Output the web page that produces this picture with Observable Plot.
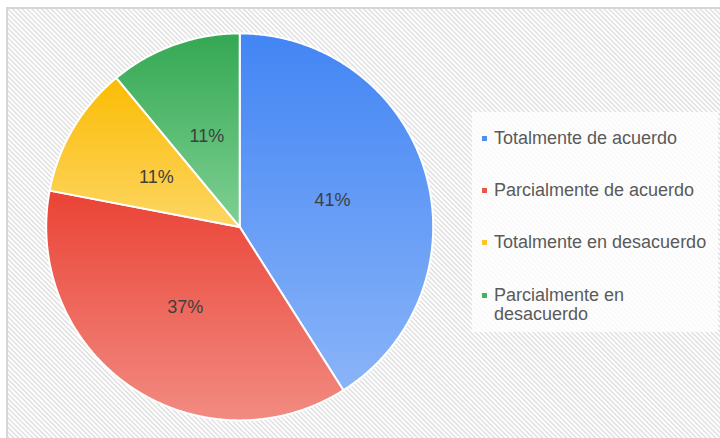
<!DOCTYPE html>
<html>
<head>
<meta charset="utf-8">
<script src="https://cdn.jsdelivr.net/npm/d3@7"></script>
<script src="https://cdn.jsdelivr.net/npm/@observablehq/plot@0.6"></script>
<style>
  html, body { margin: 0; padding: 0; background: #ffffff; }
  #wrap { position: relative; width: 720px; height: 438px; overflow: hidden; font-family: "Liberation Sans", Arial, sans-serif; }
  #legendBox { position: absolute; left: 472px; top: 112px; width: 246px; height: 220px; background: rgba(255,255,255,0.78); }
  .item { position: absolute; left: 482px; width: 236px; }
  .sw { position: absolute; left: 0; width: 5px; height: 5px; }
  .lab { position: absolute; left: 12px; width: 222px; font-size: 18px; line-height: 19.7px; color: #5a5a5a; }
</style>
</head>
<body>
<div id="wrap"></div>
<script>
// ---- data ----
const categories = ["Totalmente de acuerdo", "Parcialmente de acuerdo", "Totalmente en desacuerdo", "Parcialmente en desacuerdo"];
const values = [41, 37, 11, 11];
const topColors = ["#4285f4", "#ea4335", "#fbbc04", "#34a853"];
const bottomColors = ["#8ab4f8", "#f28b82", "#fdd663", "#7fd093"];
const legendColors = ["#4f8ff5", "#ec5548", "#fcc42a", "#45b062"];

// ---- layout ----
const W = 720, H = 438;
const cx = 239.2, cy = 226.4, R = 193.5;

const table = categories.map((name, i) => ({name, value: values[i], i}));
const arcs = d3.pie().sort(null).value(d => d.value)(table);

const slices = arcs.map(a => {
  const pts = [{x: 0, y: 0}];
  const n = Math.max(2, Math.ceil((a.endAngle - a.startAngle) / (Math.PI / 360)) + 1);
  for (let k = 0; k < n; k++) {
    const t = a.startAngle + (a.endAngle - a.startAngle) * k / (n - 1);
    pts.push({x: Math.sin(t), y: Math.cos(t)});
  }
  return {i: a.data.i, pts};
});

const labels = arcs.map(a => {
  const m = (a.startAngle + a.endAngle) / 2;
  return {x: 0.5 * Math.sin(m), y: 0.5 * Math.cos(m), text: a.data.value + "%"};
});

const svg = Plot.plot({
  width: W,
  height: H,
  marginLeft: 6.5,
  marginTop: 7.5,
  marginRight: -4,
  marginBottom: -4,
  x: {domain: [-1, 1], range: [cx - R, cx + R], axis: null},
  y: {domain: [-1, 1], range: [cy + R, cy - R], axis: null},
  style: {background: "transparent", fontFamily: "'Liberation Sans', Arial, sans-serif", overflow: "hidden"},
  marks: [
    Plot.frame({fill: "url(#hatch)", stroke: "#d6d6d6", strokeWidth: 2}),
    ...slices.map(s => Plot.line(s.pts, {
      x: "x", y: "y", curve: "linear-closed",
      fill: `url(#grad${s.i})`, stroke: "white", strokeWidth: 2, strokeLinejoin: "round"
    })),
    Plot.text(labels, {x: "x", y: "y", text: "text", fontSize: 18, fill: "#3f3f3f"})
  ]
});

// gradient and hatch definitions
const ns = "http://www.w3.org/2000/svg";
const defs = document.createElementNS(ns, "defs");
const pat = document.createElementNS(ns, "pattern");
pat.setAttribute("id", "hatch");
pat.setAttribute("patternUnits", "userSpaceOnUse");
pat.setAttribute("width", "8");
pat.setAttribute("height", "3.4");
pat.setAttribute("patternTransform", "rotate(45)");
const bg = document.createElementNS(ns, "rect");
bg.setAttribute("width", "8"); bg.setAttribute("height", "3.4"); bg.setAttribute("fill", "#ffffff");
const ln = document.createElementNS(ns, "rect");
ln.setAttribute("width", "8"); ln.setAttribute("height", "1.5"); ln.setAttribute("fill", "#e0e0e0");
pat.appendChild(bg); pat.appendChild(ln);
defs.appendChild(pat);
topColors.forEach((c, i) => {
  const g = document.createElementNS(ns, "linearGradient");
  g.setAttribute("id", "grad" + i);
  g.setAttribute("x1", "0"); g.setAttribute("y1", "0");
  g.setAttribute("x2", "0"); g.setAttribute("y2", "1");
  const s1 = document.createElementNS(ns, "stop");
  s1.setAttribute("offset", "0"); s1.setAttribute("stop-color", c);
  const s2 = document.createElementNS(ns, "stop");
  s2.setAttribute("offset", "1"); s2.setAttribute("stop-color", bottomColors[i]);
  g.appendChild(s1); g.appendChild(s2);
  defs.appendChild(g);
});
svg.insertBefore(defs, svg.firstChild);

const wrap = document.getElementById("wrap");
wrap.appendChild(svg);
svg.style.position = "absolute";
svg.style.left = "0";
svg.style.top = "0";

// legend
const box = document.createElement("div");
box.id = "legendBox";
wrap.appendChild(box);
categories.forEach((name, i) => {
  const top = 128.5 + 52.4 * i;
  const item = document.createElement("div");
  item.className = "item";
  item.style.top = top + "px";
  const sw = document.createElement("div");
  sw.className = "sw";
  sw.style.top = "7px";
  sw.style.background = legendColors[i];
  const lab = document.createElement("div");
  lab.className = "lab";
  lab.textContent = name;
  item.appendChild(sw);
  item.appendChild(lab);
  wrap.appendChild(item);
});
</script>
</body>
</html>
